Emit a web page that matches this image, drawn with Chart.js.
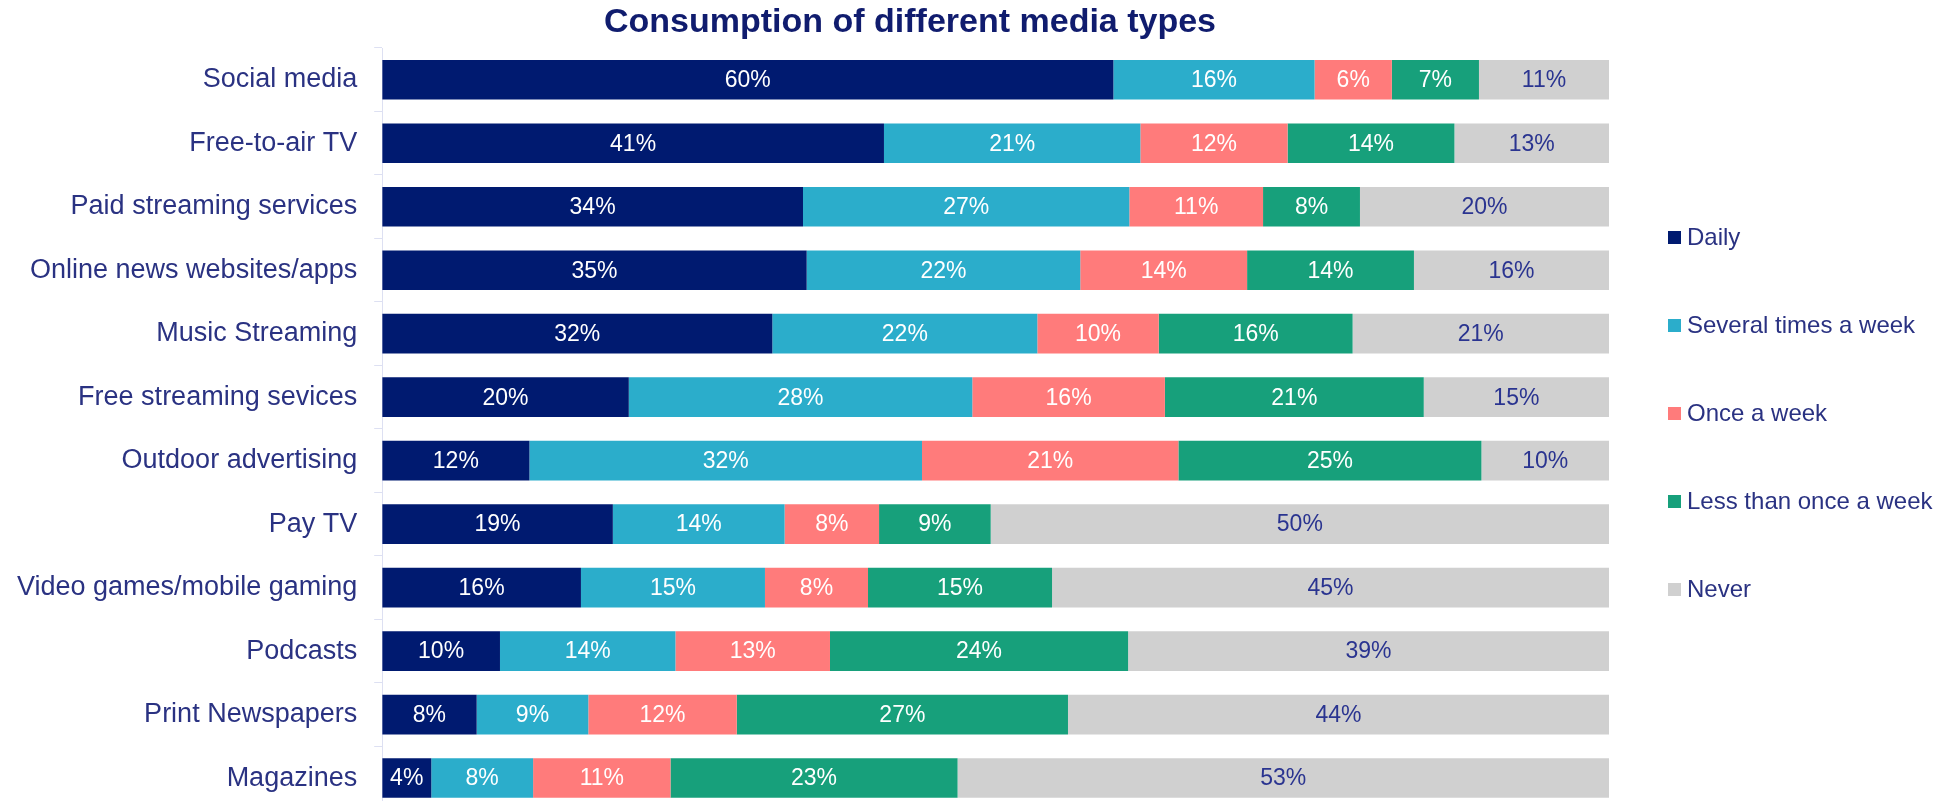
<!DOCTYPE html>
<html>
<head>
<meta charset="utf-8">
<title>Consumption of different media types</title>
<script src="https://cdn.jsdelivr.net/npm/chart.js@4.4.1/dist/chart.umd.min.js"></script>
<style>
  html, body { margin: 0; padding: 0; background: #fff; overflow: hidden; }
  #wrap { position: relative; width: 1951px; height: 843px; }
</style>
</head>
<body>
<div id="wrap"><canvas id="mediaChart"></canvas></div>
<script>
// ---------------- Data ----------------
const categories = [
  "Social media",
  "Free-to-air TV",
  "Paid streaming services",
  "Online news websites/apps",
  "Music Streaming",
  "Free streaming sevices",
  "Outdoor advertising",
  "Pay TV",
  "Video games/mobile gaming",
  "Podcasts",
  "Print Newspapers",
  "Magazines"
];

const seriesNames = ["Daily", "Several times a week", "Once a week", "Less than once a week", "Never"];

const daily        = [59.6, 40.9, 34.3, 34.6, 31.8, 20.1, 12.0, 18.8, 16.2,  9.6,  7.7,  4.0];
const severalWeek  = [16.4, 20.9, 26.6, 22.3, 21.6, 28.0, 32.0, 14.0, 15.0, 14.3,  9.1,  8.3];
const onceWeek     = [ 6.3, 12.0, 10.9, 13.6,  9.9, 15.7, 20.9,  7.7,  8.4, 12.6, 12.1, 11.2];
const lessThanWeek = [ 7.1, 13.6,  7.9, 13.6, 15.8, 21.1, 24.7,  9.1, 15.0, 24.3, 27.0, 23.4];
const never        = [10.6, 12.6, 20.3, 15.9, 20.9, 15.1, 10.4, 50.4, 45.4, 39.2, 44.1, 53.1];

const colors = ["#001a70", "#2badcb", "#ff7b7b", "#17a07b", "#d0d0d0"];
const labelColors = ["#ffffff", "#ffffff", "#ffffff", "#ffffff", "#2a3490"];
const navyText = "#2a3282";

// ---------------- Plugins ----------------
// value labels in the middle of every segment
const segmentLabels = {
  id: "segmentLabels",
  afterDatasetsDraw(chart) {
    const ctx = chart.ctx;
    ctx.save();
    ctx.font = "23px 'Liberation Sans', Arial, sans-serif";
    ctx.textAlign = "center";
    ctx.textBaseline = "middle";
    chart.data.datasets.forEach((ds, di) => {
      const meta = chart.getDatasetMeta(di);
      ctx.fillStyle = labelColors[di];
      meta.data.forEach((bar, i) => {
        const v = ds.data[i];
        ctx.fillText(Math.round(v) + "%", (bar.x + bar.base) / 2, bar.y + 1);
      });
    });
    ctx.restore();
  }
};

// title and side legend
const titleAndLegend = {
  id: "titleAndLegend",
  afterDraw(chart) {
    const ctx = chart.ctx;
    const area = chart.chartArea;
    ctx.save();
    ctx.fillStyle = "#101c6e";
    ctx.font = "bold 34px 'Liberation Sans', Arial, sans-serif";
    ctx.textAlign = "center";
    ctx.textBaseline = "middle";
    ctx.fillText("Consumption of different media types", 910, 23);

    ctx.font = "24px 'Liberation Sans', Arial, sans-serif";
    ctx.textAlign = "left";
    const boxX = area.right + 59;
    seriesNames.forEach((name, i) => {
      const y = 237 + i * 88;
      ctx.fillStyle = colors[i];
      ctx.fillRect(boxX, y - 6, 13, 13);
      ctx.fillStyle = navyText;
      ctx.fillText(name, boxX + 19, y + 1);
    });
    ctx.restore();
  }
};

// ---------------- Chart ----------------
const values = [daily, severalWeek, onceWeek, lessThanWeek, never];

new Chart(document.getElementById("mediaChart"), {
  type: "bar",
  data: {
    labels: categories,
    datasets: seriesNames.map((name, i) => ({
      label: name,
      data: values[i],
      backgroundColor: colors[i],
      borderWidth: 0,
      barPercentage: 0.624,
      categoryPercentage: 1
    }))
  },
  options: {
    indexAxis: "y",
    responsive: true,
    maintainAspectRatio: false,
    animation: false,
    layout: { padding: { top: 48, bottom: 4, left: 0, right: 342 } },
    plugins: {
      legend: { display: false },
      title: { display: false },
      tooltip: { enabled: false }
    },
    scales: {
      x: {
        stacked: true,
        min: 0,
        max: 100,
        display: false
      },
      y: {
        stacked: true,
        grid: {
          drawOnChartArea: false,
          drawTicks: true,
          tickLength: 8,
          color: "#dde0f2"
        },
        border: { display: true, color: "#dde0f2" },
        ticks: {
          color: navyText,
          padding: 17,
          font: { size: 27, family: "'Liberation Sans', Arial, sans-serif" }
        }
      }
    }
  },
  plugins: [segmentLabels, titleAndLegend]
});
</script>
</body>
</html>
